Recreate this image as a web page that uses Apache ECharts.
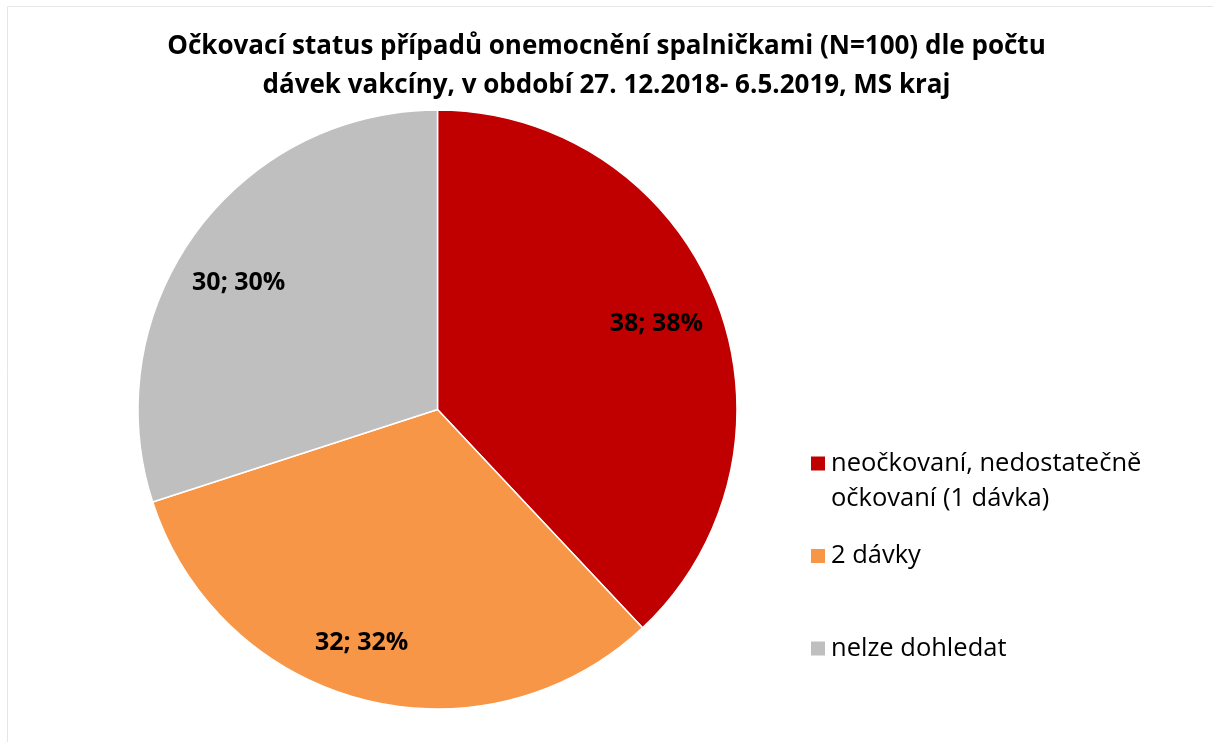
<!DOCTYPE html>
<html>
<head>
<meta charset="utf-8">
<script src="https://cdn.jsdelivr.net/npm/echarts@6/dist/echarts.min.js"></script>
<style>
  html, body { margin: 0; padding: 0; background: #fff; }
  #chart { width: 1213px; height: 742px; }
</style>
</head>
<body>
<div id="chart"></div>
<script>
var categories = ['neočkovaní, nedostatečně\nočkovaní (1 dávka)', '2 dávky', 'nelze dohledat'];
var values = [38, 32, 30];
var colors = ['#C00000', '#F79646', '#BFBFBF'];
var titleText = 'Očkovací status případů onemocnění spalničkami (N=100) dle počtu\ndávek vakcíny, v období 27. 12.2018- 6.5.2019, MS kraj';

var font = '"Open Sans", "Noto Sans", sans-serif';

var pieData = categories.map(function (c, i) {
	return { name: c, value: values[i], itemStyle: { color: colors[i] } };
});

// small label nudges to sit where Excel put them
var labelOffsets = [[-5, 3], [-16, 0], [-4, 15]];

var legendTops = [411, 538.5, 631];
var legends = categories.map(function (c, i) {
	return {
		data: [c],
		left: 809,
		top: legendTops[i],
		padding: 0,
		orient: 'vertical',
		itemWidth: 16,
		itemHeight: 16,
		itemGap: 0,
		icon: 'rect',
		selectedMode: false,
		// an empty first line keeps the square level with the first text line
		formatter: i === 0 ? '\n{name}' : '{name}',
		textStyle: {
			fontFamily: font,
			fontSize: 25.5,
			color: '#000',
			lineHeight: 35
		}
	};
});

var option = {
	backgroundColor: '#fff',
	animation: false,
	title: {
		text: titleText,
		left: 'center',
		top: 22.5,
		textStyle: {
			fontFamily: font,
			fontSize: 26,
			fontWeight: 'bold',
			color: '#000',
			lineHeight: 39
		}
	},
	legend: legends,
	graphic: [{
		type: 'rect',
		shape: { x: 7.5, y: 6.5, width: 1220, height: 760 },
		style: { fill: 'none', stroke: '#e6e6e6', lineWidth: 1 },
		silent: true
	}],
	series: [
		{
			name: 'status',
			type: 'pie',
			center: [437.5, 409.5],
			radius: [0, 299.5],
			startAngle: 90,
			clockwise: true,
			label: { show: false },
			labelLine: { show: false },
			itemStyle: { borderColor: '#fff', borderWidth: 1.5 },
			emphasis: { disabled: true },
			data: pieData
		},
		{
			// invisible ring used only to place the labels further out
			name: 'labels',
			type: 'pie',
			center: [437.5, 409.5],
			radius: [176, 299.5],
			startAngle: 90,
			clockwise: true,
			silent: true,
			legendHoverLink: false,
			itemStyle: { color: 'rgba(0,0,0,0)', borderWidth: 0 },
			label: {
				show: true,
				position: 'inside',
				formatter: '{c}; {d}%',
				fontFamily: font,
				fontSize: 25,
				fontWeight: 'bold',
				color: '#000'
			},
			labelLine: { show: false },
			emphasis: { disabled: true },
			data: values.map(function (v, i) {
				return { name: 'l' + i, value: v, label: { offset: labelOffsets[i] } };
			})
		}
	]
};

echarts.init(document.getElementById('chart')).setOption(option);
</script>
</body>
</html>
